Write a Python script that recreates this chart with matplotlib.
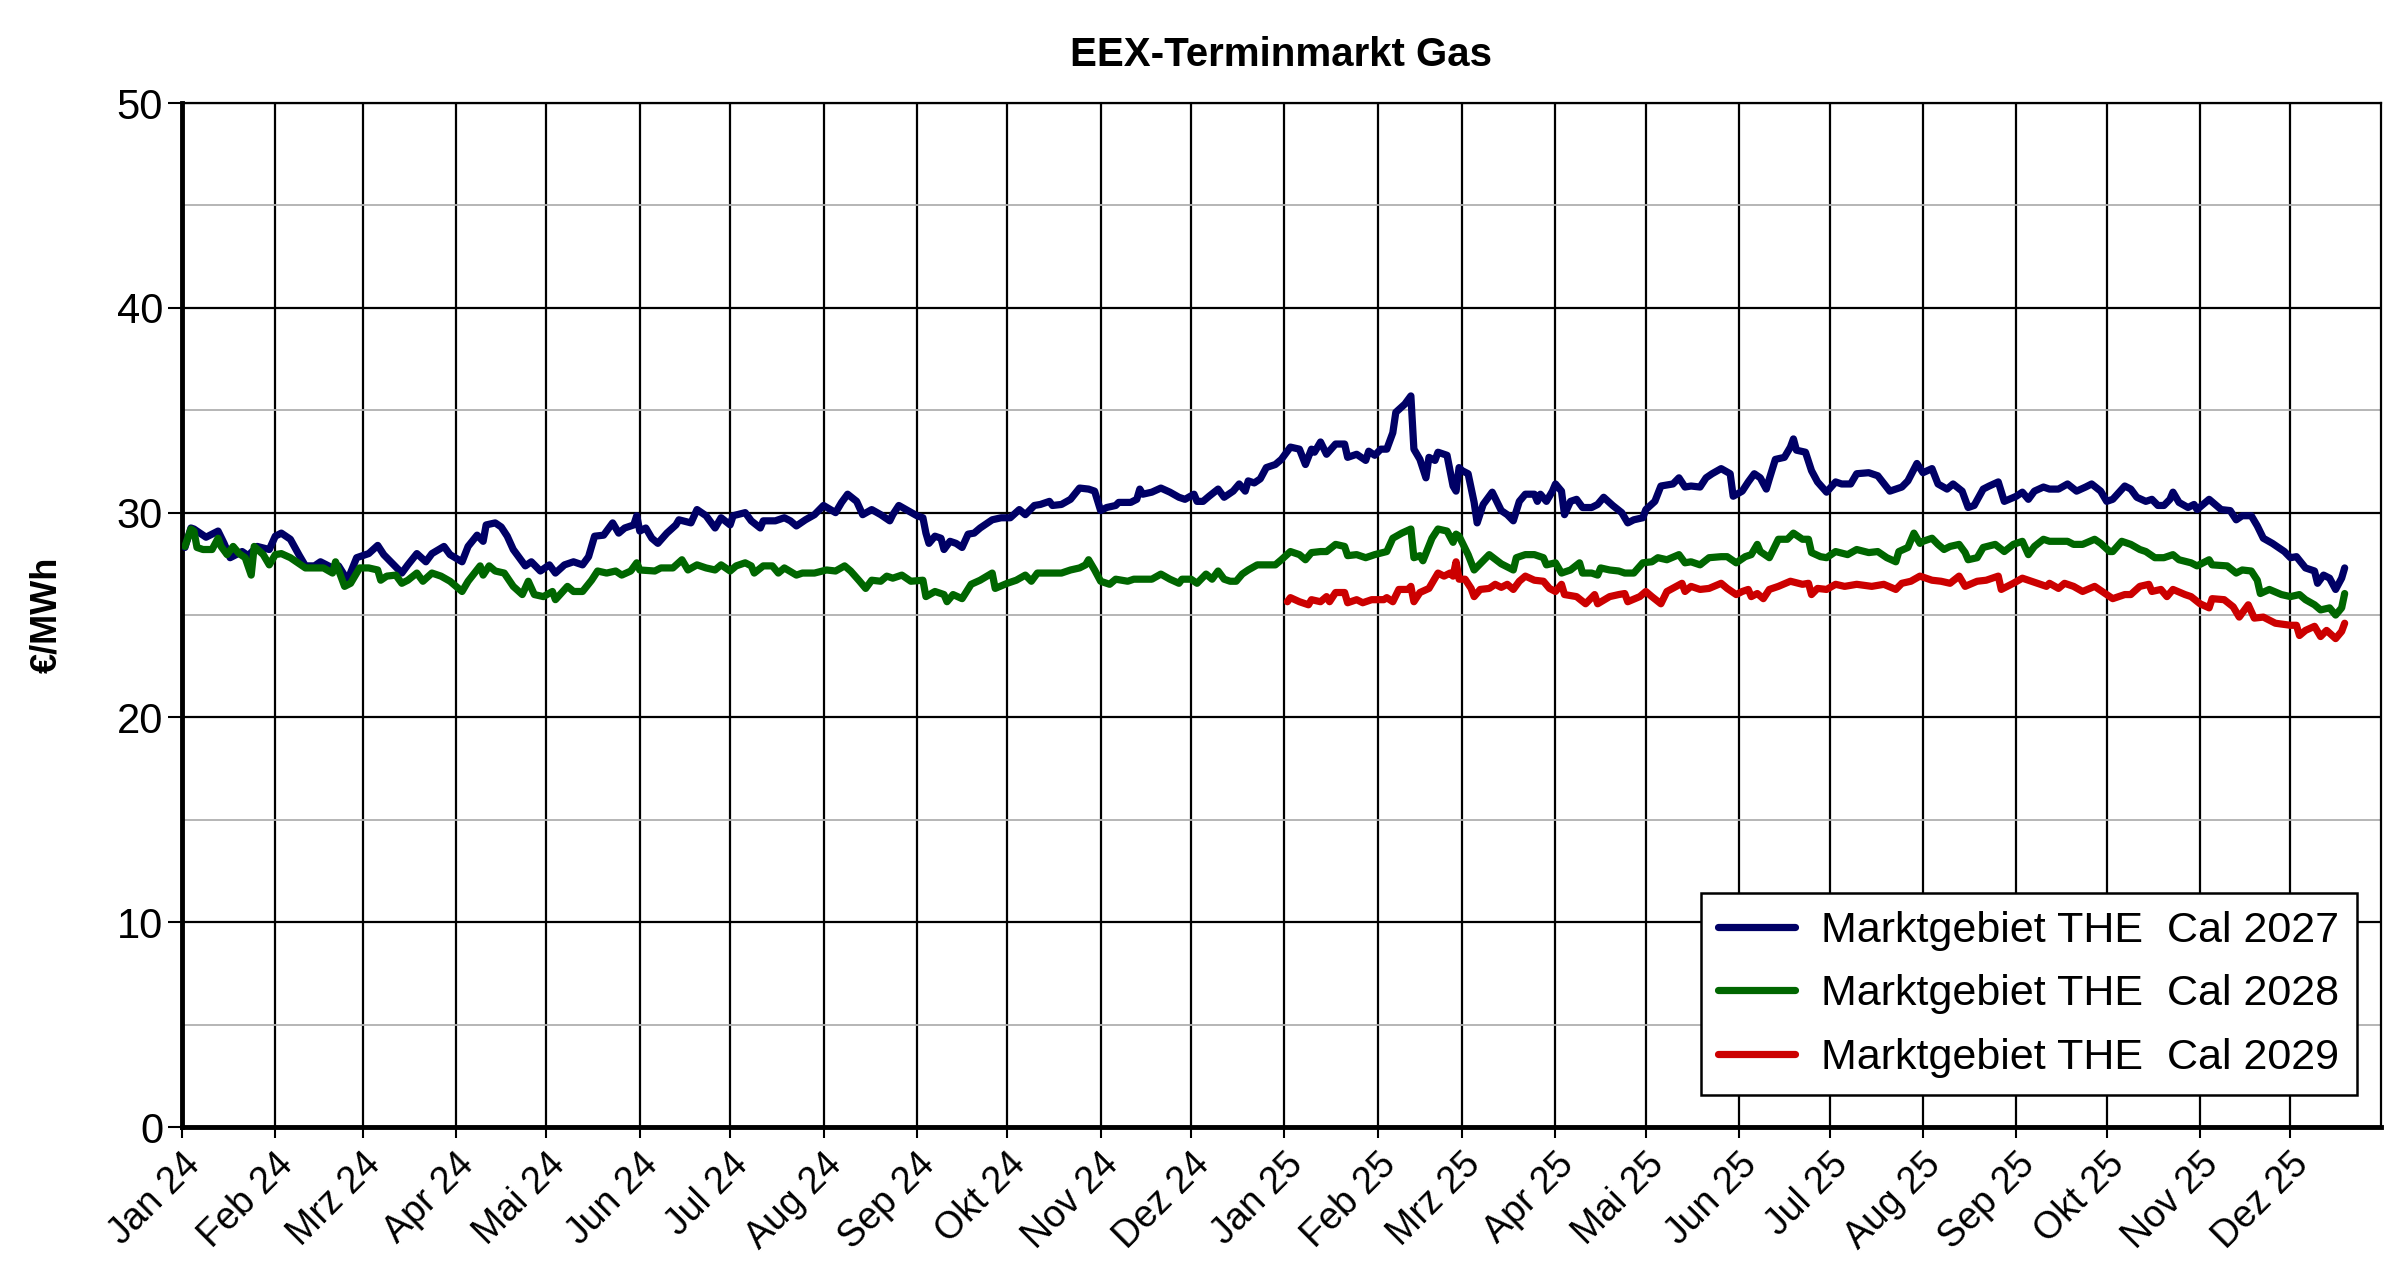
import numpy as np
import matplotlib
matplotlib.use("Agg")
import matplotlib.pyplot as plt
from matplotlib.ticker import MultipleLocator

plt.rcParams['font.family'] = ['Liberation Sans', 'DejaVu Sans']

start = np.datetime64('2024-01-01')
month_names = ['Jan', 'Feb', 'Mrz', 'Apr', 'Mai', 'Jun', 'Jul', 'Aug', 'Sep', 'Okt', 'Nov', 'Dez']
labels = ['Marktgebiet THE  Cal 2027', 'Marktgebiet THE  Cal 2028', 'Marktgebiet THE  Cal 2029']
colors = ['#000066', '#006600', '#cc0000']

# (days since 1 Jan 2024, EUR/MWh)
cal_2027 = [
    (1, 28.3), (3, 29.25), (4, 29.2), (8, 28.8), (12, 29.1), (14, 28.5), (16, 27.8), (20, 28.1),
    (22, 27.9), (25, 28.35), (29, 28.2), (31, 28.85), (33, 29.0), (36, 28.7), (39, 27.9), (41, 27.4),
    (44, 27.4), (46, 27.6), (50, 27.3), (52, 27.4), (55, 26.7), (58, 27.8), (62, 28.0), (65, 28.4),
    (67, 27.95), (70, 27.5), (73, 27.05), (75, 27.45), (78, 28.0), (81, 27.6), (83, 28.0), (87, 28.35),
    (89, 27.95), (93, 27.6), (95, 28.35), (98, 28.9), (100, 28.6), (101, 29.4), (104, 29.5), (106, 29.3),
    (108, 28.85), (110, 28.2), (114, 27.4), (116, 27.6), (119, 27.15), (122, 27.45), (124, 27.05),
    (127, 27.45), (130, 27.6), (133, 27.45), (135, 27.85), (137, 28.85), (140, 28.9), (143, 29.5),
    (145, 29.0), (147, 29.25), (150, 29.4), (151, 29.85), (152, 29.1), (154, 29.25), (156, 28.75),
    (158, 28.5), (161, 29.0), (164, 29.4), (165, 29.65), (169, 29.5), (171, 30.15), (174, 29.85),
    (177, 29.25), (179, 29.75), (182, 29.4), (183, 29.85), (187, 30.0), (189, 29.6), (192, 29.25),
    (193, 29.6), (197, 29.6), (200, 29.75), (202, 29.6), (204, 29.35), (207, 29.65), (210, 29.9),
    (213, 30.35), (217, 30.0), (219, 30.5), (221, 30.9), (224, 30.55), (226, 29.9), (229, 30.15),
    (232, 29.9), (235, 29.6), (236, 29.9), (238, 30.35), (241, 30.1), (244, 29.85), (246, 29.75),
    (247, 29.0), (248, 28.5), (250, 28.85), (252, 28.75), (253, 28.2), (255, 28.6), (257, 28.5),
    (259, 28.3), (261, 28.95), (263, 29.0), (265, 29.25), (269, 29.65), (272, 29.75), (275, 29.75),
    (278, 30.15), (280, 29.9), (283, 30.35), (285, 30.4), (288, 30.55), (289, 30.35), (292, 30.4),
    (295, 30.65), (298, 31.2), (301, 31.15), (303, 31.05), (305, 30.1), (307, 30.25), (310, 30.35),
    (311, 30.5), (315, 30.5), (317, 30.65), (318, 31.15), (319, 30.9), (322, 31.0), (325, 31.2),
    (328, 31.0), (331, 30.75), (333, 30.65), (336, 30.9), (337, 30.55), (339, 30.55), (341, 30.8),
    (344, 31.15), (346, 30.75), (349, 31.05), (351, 31.4), (353, 31.05), (354, 31.55), (356, 31.45),
    (358, 31.65), (360, 32.2), (363, 32.35), (365, 32.6), (368, 33.2), (371, 33.1), (373, 32.35),
    (375, 33.1), (376, 32.95), (378, 33.45), (380, 32.85), (383, 33.35), (386, 33.35), (387, 32.7),
    (390, 32.85), (393, 32.55), (394, 33.0), (396, 32.8), (398, 33.1), (400, 33.1), (402, 33.9),
    (403, 34.9), (406, 35.3), (408, 35.7), (409, 33.1), (411, 32.6), (413, 31.7), (414, 32.7),
    (416, 32.55), (417, 32.95), (420, 32.8), (422, 31.3), (423, 31.05), (424, 32.2), (425, 32.05),
    (427, 31.9), (429, 30.5), (430, 29.5), (432, 30.4), (435, 31.0), (438, 30.1), (440, 29.9),
    (442, 29.6), (444, 30.55), (446, 30.9), (449, 30.9), (450, 30.55), (451, 30.9), (453, 30.55),
    (455, 31.05), (456, 31.4), (458, 31.05), (459, 29.9), (461, 30.55), (463, 30.65), (465, 30.25),
    (468, 30.25), (470, 30.4), (472, 30.75), (475, 30.35), (478, 30.0), (480, 29.5), (482, 29.65),
    (485, 29.75), (486, 30.15), (489, 30.55), (491, 31.3), (495, 31.4), (497, 31.7), (499, 31.25),
    (501, 31.3), (504, 31.25), (506, 31.7), (508, 31.9), (511, 32.15), (514, 31.9), (515, 30.8),
    (518, 31.05), (520, 31.5), (522, 31.9), (524, 31.7), (526, 31.15), (527, 31.65), (529, 32.6),
    (532, 32.7), (534, 33.2), (535, 33.6), (536, 33.05), (539, 32.95), (541, 32.05), (543, 31.5),
    (546, 31.0), (549, 31.5), (551, 31.4), (554, 31.4), (556, 31.9), (560, 31.95), (563, 31.8),
    (567, 31.05), (571, 31.25), (573, 31.55), (576, 32.4), (578, 31.95), (581, 32.15), (583, 31.4),
    (586, 31.15), (588, 31.4), (591, 31.05), (593, 30.25), (595, 30.35), (598, 31.15), (600, 31.3),
    (603, 31.5), (605, 30.55), (609, 30.8), (611, 31.0), (613, 30.65), (615, 31.05), (618, 31.25),
    (620, 31.15), (623, 31.15), (626, 31.4), (629, 31.05), (632, 31.25), (634, 31.4), (637, 31.05),
    (639, 30.55), (641, 30.65), (645, 31.3), (647, 31.15), (649, 30.75), (652, 30.55), (654, 30.65),
    (656, 30.35), (658, 30.35), (660, 30.65), (661, 31.0), (663, 30.5), (666, 30.25), (668, 30.4),
    (669, 30.15), (673, 30.65), (677, 30.15), (680, 30.1), (682, 29.65), (684, 29.85), (687, 29.85),
    (689, 29.35), (691, 28.75), (694, 28.5), (698, 28.1), (700, 27.8), (702, 27.85), (705, 27.3),
    (708, 27.15), (709, 26.55), (711, 26.95), (713, 26.8), (715, 26.25), (717, 26.8), (718, 27.3),
]

cal_2028 = [
    (1, 28.35), (3, 29.2), (4, 29.1), (5, 28.3), (7, 28.2), (10, 28.2), (12, 28.75), (13, 28.35),
    (15, 27.95), (17, 28.35), (19, 28.0), (21, 27.8), (23, 26.95), (24, 28.35), (27, 27.95), (29, 27.45),
    (31, 27.95), (33, 28.0), (36, 27.8), (39, 27.5), (41, 27.3), (44, 27.3), (47, 27.3), (50, 27.05),
    (51, 27.6), (54, 26.4), (56, 26.55), (59, 27.3), (62, 27.3), (65, 27.2), (66, 26.7), (68, 26.9),
    (71, 26.95), (73, 26.55), (75, 26.7), (78, 27.05), (80, 26.65), (83, 27.05), (86, 26.9), (89, 26.65),
    (93, 26.15), (95, 26.65), (99, 27.4), (100, 26.95), (102, 27.4), (104, 27.15), (107, 27.05),
    (110, 26.4), (113, 26.0), (115, 26.65), (117, 26.0), (120, 25.9), (123, 26.15), (124, 25.75),
    (128, 26.4), (130, 26.15), (133, 26.15), (136, 26.7), (138, 27.15), (141, 27.05), (144, 27.15),
    (146, 26.95), (149, 27.15), (151, 27.55), (152, 27.2), (157, 27.15), (159, 27.3), (163, 27.3),
    (166, 27.7), (168, 27.2), (171, 27.45), (174, 27.3), (177, 27.2), (179, 27.45), (182, 27.15),
    (184, 27.4), (187, 27.55), (189, 27.4), (190, 27.05), (193, 27.4), (196, 27.4), (198, 27.05),
    (200, 27.3), (204, 26.95), (206, 27.05), (210, 27.05), (214, 27.2), (217, 27.15), (220, 27.4),
    (222, 27.15), (225, 26.65), (227, 26.3), (229, 26.7), (232, 26.65), (234, 26.9), (236, 26.8),
    (239, 26.95), (242, 26.65), (246, 26.7), (247, 25.9), (250, 26.15), (253, 26.0), (254, 25.65),
    (256, 26.0), (259, 25.8), (262, 26.5), (265, 26.7), (269, 27.05), (270, 26.3), (274, 26.55),
    (277, 26.7), (280, 26.95), (282, 26.65), (284, 27.05), (288, 27.05), (292, 27.05), (295, 27.2),
    (298, 27.3), (300, 27.45), (301, 27.7), (303, 27.2), (305, 26.65), (308, 26.5), (310, 26.75),
    (314, 26.65), (316, 26.75), (319, 26.75), (322, 26.75), (325, 27.0), (328, 26.75), (331, 26.55),
    (332, 26.75), (335, 26.75), (337, 26.55), (340, 27.0), (342, 26.75), (344, 27.15), (346, 26.75),
    (348, 26.65), (350, 26.65), (352, 27.0), (354, 27.2), (357, 27.45), (360, 27.45), (363, 27.45),
    (365, 27.7), (368, 28.1), (371, 27.95), (373, 27.7), (375, 28.05), (378, 28.1), (380, 28.1),
    (383, 28.45), (386, 28.35), (387, 27.9), (390, 27.95), (393, 27.8), (396, 27.95), (400, 28.1),
    (402, 28.75), (405, 29.0), (408, 29.2), (409, 27.8), (411, 27.9), (412, 27.65), (415, 28.75),
    (417, 29.2), (420, 29.1), (422, 28.55), (423, 28.95), (424, 28.85), (427, 27.95), (429, 27.2),
    (432, 27.65), (434, 27.95), (438, 27.5), (442, 27.2), (443, 27.8), (446, 27.95), (449, 27.95),
    (452, 27.8), (453, 27.45), (456, 27.55), (458, 27.05), (461, 27.2), (464, 27.55), (465, 27.05),
    (468, 27.05), (470, 26.95), (471, 27.3), (474, 27.2), (477, 27.15), (479, 27.05), (482, 27.05),
    (485, 27.55), (488, 27.6), (490, 27.8), (493, 27.7), (497, 27.95), (499, 27.55), (501, 27.6),
    (504, 27.45), (507, 27.8), (511, 27.85), (513, 27.85), (516, 27.55), (519, 27.85), (521, 27.95),
    (523, 28.45), (524, 28.1), (527, 27.8), (530, 28.7), (533, 28.7), (535, 29.0), (538, 28.7),
    (540, 28.7), (541, 28.05), (544, 27.85), (546, 27.8), (549, 28.1), (553, 27.95), (556, 28.2),
    (560, 28.05), (563, 28.1), (566, 27.8), (569, 27.6), (570, 28.1), (573, 28.3), (575, 29.0),
    (577, 28.5), (578, 28.6), (581, 28.75), (583, 28.45), (585, 28.2), (587, 28.35), (590, 28.45),
    (592, 28.05), (593, 27.7), (596, 27.8), (598, 28.3), (602, 28.45), (605, 28.1), (608, 28.45),
    (611, 28.6), (613, 27.95), (615, 28.35), (618, 28.7), (620, 28.6), (623, 28.6), (626, 28.6),
    (628, 28.45), (631, 28.45), (635, 28.7), (637, 28.5), (640, 28.1), (641, 28.1), (644, 28.6),
    (647, 28.45), (650, 28.2), (652, 28.1), (655, 27.8), (658, 27.8), (661, 27.95), (663, 27.7),
    (667, 27.55), (669, 27.4), (673, 27.7), (674, 27.45), (679, 27.4), (682, 27.05), (684, 27.2),
    (687, 27.15), (689, 26.7), (690, 26.05), (693, 26.25), (697, 26.0), (700, 25.9), (703, 26.0),
    (705, 25.75), (708, 25.5), (710, 25.25), (713, 25.35), (715, 25.0), (717, 25.35), (718, 26.05),
]

cal_2029 = [
    (367, 25.65), (368, 25.85), (371, 25.65), (374, 25.5), (375, 25.75), (378, 25.65), (380, 25.9),
    (381, 25.65), (383, 26.1), (386, 26.1), (387, 25.6), (390, 25.75), (392, 25.6), (395, 25.75),
    (399, 25.75), (400, 25.85), (402, 25.65), (404, 26.25), (407, 26.25), (408, 26.4), (409, 25.65),
    (411, 26.1), (414, 26.3), (417, 27.05), (419, 26.9), (421, 27.05), (422, 26.9), (423, 27.6),
    (424, 26.75), (426, 26.75), (428, 26.3), (429, 25.9), (431, 26.25), (434, 26.3), (436, 26.5),
    (438, 26.35), (440, 26.5), (442, 26.25), (444, 26.65), (446, 26.9), (449, 26.7), (452, 26.65),
    (454, 26.3), (456, 26.15), (458, 26.5), (459, 26.0), (463, 25.9), (466, 25.55), (469, 26.0),
    (470, 25.55), (474, 25.9), (477, 26.0), (479, 26.05), (480, 25.65), (484, 25.9), (486, 26.15),
    (488, 25.9), (491, 25.55), (493, 26.15), (498, 26.55), (499, 26.15), (501, 26.4), (504, 26.25),
    (507, 26.3), (511, 26.55), (513, 26.3), (516, 26.0), (518, 26.15), (520, 26.25), (521, 25.9),
    (523, 26.05), (525, 25.8), (527, 26.25), (530, 26.4), (534, 26.65), (538, 26.5), (540, 26.55),
    (541, 26.0), (543, 26.3), (546, 26.25), (549, 26.5), (552, 26.4), (556, 26.5), (561, 26.4),
    (565, 26.5), (569, 26.25), (571, 26.55), (574, 26.65), (577, 26.9), (581, 26.7), (584, 26.65),
    (587, 26.55), (590, 26.9), (592, 26.4), (596, 26.65), (599, 26.7), (603, 26.9), (604, 26.25),
    (608, 26.55), (611, 26.8), (614, 26.65), (619, 26.4), (620, 26.55), (623, 26.3), (625, 26.55),
    (628, 26.4), (631, 26.15), (635, 26.4), (639, 26.0), (641, 25.8), (645, 26.0), (647, 26.0),
    (650, 26.4), (653, 26.5), (654, 26.15), (657, 26.25), (659, 25.9), (661, 26.25), (665, 26.0),
    (667, 25.9), (670, 25.55), (673, 25.35), (674, 25.8), (678, 25.75), (681, 25.4), (683, 24.9),
    (686, 25.5), (688, 24.85), (691, 24.9), (695, 24.6), (700, 24.5), (702, 24.5), (703, 24.0),
    (705, 24.25), (708, 24.45), (710, 23.95), (712, 24.25), (715, 23.85), (717, 24.2), (718, 24.6),
]


def unpack(series):
    days = np.array([p[0] for p in series])
    vals = np.array([p[1] for p in series])
    return start + days.astype('timedelta64[D]'), vals


fig = plt.figure(figsize=(24, 12.8), dpi=100)
ax = fig.add_axes([0.0758, 0.1195, 0.9162, 0.80])

for series, col, lab in zip([cal_2027, cal_2028, cal_2029], colors, labels):
    x, y = unpack(series)
    ax.plot(x, y, color=col, lw=5.2, label=lab, solid_joinstyle='round',
            solid_capstyle='round', zorder=3)

# month grid
months = np.arange('2024-01', '2026-01', dtype='datetime64[M]').astype('datetime64[D]')
mlabels = [f"{month_names[i % 12]} {24 + i // 12}" for i in range(len(months))]
ax.set_xticks(months)
ax.set_xticklabels(mlabels, rotation=45, ha='right', va='top', rotation_mode='anchor', fontsize=27)
ax.set_xlim(start, np.datetime64('2025-12-31'))

ax.set_ylim(0, 50)
ax.yaxis.set_major_locator(MultipleLocator(10))
ax.yaxis.set_minor_locator(MultipleLocator(5))
ax.tick_params(axis='y', which='major', labelsize=30, length=10, width=1.5, direction='out')
ax.tick_params(axis='y', which='minor', length=0)
ax.tick_params(axis='x', length=8, width=1.5, direction='out', pad=6)

ax.grid(True, which='major', color='black', lw=1.6, zorder=1)
ax.grid(True, which='minor', axis='y', color='#b0b0b0', lw=1.3, zorder=0)
ax.set_axisbelow(True)

for side in ['left', 'bottom']:
    ax.spines[side].set_linewidth(3.5)
for side in ['top', 'right']:
    ax.spines[side].set_linewidth(1.6)

ax.set_ylabel('€/MWh', fontsize=26, fontweight='bold', labelpad=38)
ax.set_title('EEX-Terminmarkt Gas', fontsize=29, fontweight='bold', pad=27)

leg = ax.legend(loc='lower right', bbox_to_anchor=(0.989, 0.031), fontsize=31, frameon=True,
                fancybox=False, edgecolor='black', framealpha=1, handlelength=1.8,
                handletextpad=0.6, borderaxespad=0, labelspacing=0.55, borderpad=0.4)
leg.get_frame().set_linewidth(1.8)
for h in leg.get_lines():
    h.set_linewidth(5.2)

fig.savefig('out.png', dpi=100, facecolor='white')
